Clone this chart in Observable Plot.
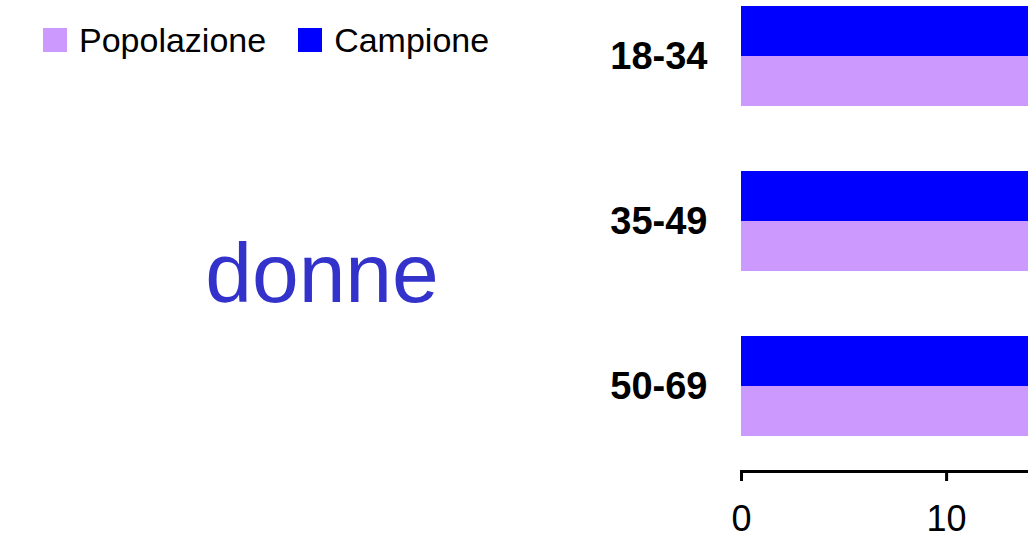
<!DOCTYPE html>
<html>
<head>
<meta charset="utf-8">
<script src="https://cdn.jsdelivr.net/npm/d3@7"></script>
<script src="https://cdn.jsdelivr.net/npm/@observablehq/plot@0.6"></script>
<style>
  html, body { margin: 0; padding: 0; background: #fff; overflow: hidden; }
  #wrap { position: relative; width: 1028px; height: 548px; overflow: hidden; font-family: "Liberation Sans", Arial, sans-serif; }
  #chart { position: absolute; left: 0; top: 0; width: 1664px; }
  #chart svg { max-width: none !important; }
  #legend { position: absolute; left: 43px; top: 23px; display: flex; align-items: center; font-size: 34px; line-height: 34px; color: #000; }
  .item { display: flex; align-items: center; margin-right: 32px; }
  .sw { width: 24px; height: 24px; margin-right: 12px; }
  #title { position: absolute; left: 0; width: 644px; top: 231px; text-align: center; font-size: 84px; line-height: 84px; color: #3333cc; }
</style>
</head>
<body>
<div id="wrap">
  <div id="chart"></div>
  <div id="legend"></div>
  <div id="title">donne</div>
</div>
<script>
// Data (values beyond ~14 are cut off in the reference; estimates)
const groups = ["18-34", "35-49", "50-69"];
const series = ["Popolazione", "Campione"];
const colors = ["#cc99ff", "#0000ff"];
const popolazione = [27, 32, 41];
const campione = [26, 33, 41];
const xTicks = [0, 10];
const titleText = "donne";

const rows = [];
groups.forEach((g, i) => {
  rows.push({group: g, series: "Popolazione", value: popolazione[i]});
  rows.push({group: g, series: "Campione", value: campione[i]});
});

const marginTop = 6, marginBottom = 77, height = 548;
const yPadInner = 0.392, yPadOuter = 0.0967;
const step = (height - marginTop - marginBottom) / (groups.length - yPadInner + 2 * yPadOuter);
const half = step * (1 - yPadInner) / 2;

const chart = Plot.plot({
  width: 1664,
  height,
  marginLeft: 741,
  marginRight: 0,
  marginTop,
  marginBottom,
  style: {fontFamily: "'Liberation Sans', Arial, sans-serif", background: "transparent", maxWidth: "none"},
  x: {domain: [0, 45]},
  y: {domain: groups, paddingInner: yPadInner, paddingOuter: yPadOuter, align: 0},
  color: {domain: series, range: colors},
  marks: [
    Plot.barX(rows.filter(d => d.series === "Campione"), {x: "value", y: "group", fill: "series", insetBottom: half, shapeRendering: "crispEdges"}),
    Plot.barX(rows.filter(d => d.series === "Popolazione"), {x: "value", y: "group", fill: "series", insetTop: half, shapeRendering: "crispEdges"}),
    Plot.frame({anchor: "bottom", stroke: "#000", strokeWidth: 3}),
    Plot.axisX({ticks: xTicks, tickSize: 10, tickPadding: 24, strokeWidth: 3, fontSize: 36, label: null, fill: "#000"}),
    Plot.axisY({tickSize: 0, tickPadding: 34, fontSize: 38, fontWeight: "bold", label: null, fill: "#000"})
  ]
});
document.getElementById("chart").appendChild(chart);

const legend = document.getElementById("legend");
series.forEach((s, i) => {
  const item = document.createElement("div");
  item.className = "item";
  const sw = document.createElement("div");
  sw.className = "sw";
  sw.style.background = colors[i];
  const t = document.createElement("span");
  t.textContent = s;
  item.appendChild(sw);
  item.appendChild(t);
  legend.appendChild(item);
});
document.getElementById("title").textContent = titleText;
</script>
</body>
</html>
